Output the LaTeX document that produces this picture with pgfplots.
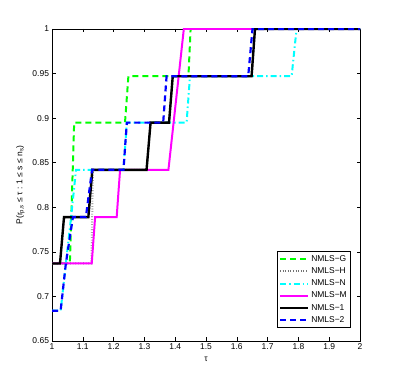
\documentclass[border=0pt]{standalone}
\usepackage{pgfplots}
\pgfplotsset{compat=1.18}
\usepackage{fontspec}
\setmainfont{Liberation Sans}

\definecolor{mgreen}{rgb}{0,1,0}
\definecolor{mcyan}{rgb}{0,1,1}
\definecolor{mmag}{rgb}{1,0,1}
\definecolor{mblue}{rgb}{0,0,1}

\begin{document}
\fontsize{8.5}{10}\selectfont
\begin{tikzpicture}
\useasboundingbox (0,0) rectangle (398bp,383bp);
\begin{axis}[
    at={(52bp,42bp)}, anchor=south west,
    scale only axis,
    width=308bp, height=312bp,
    xmin=1, xmax=2, ymin=0.65, ymax=1,
    xtick={1,1.1,...,2.01},
    ytick={0.65,0.7,0.75,0.8,0.85,0.9,0.95,1},
    xticklabels={1,1.1,1.2,1.3,1.4,1.5,1.6,1.7,1.8,1.9,2},
    yticklabels={0.65,0.7,0.75,0.8,0.85,0.9,0.95,1},
    tick align=inside,
    major tick length=3.5bp,
    tick style={black, line width=0.5pt},
    axis line style={black, line width=0.6pt},
    tick label style={font=\fontsize{8.5}{10}\selectfont},
    xlabel={τ},
    ylabel={P(r\textsubscript{p,s} ≤ τ : 1 ≤ s ≤ n\textsubscript{s})},
    xlabel style={yshift=-1bp},
    ylabel style={yshift=2bp},
    legend style={at={(rel axis cs:0.971,0.042)}, anchor=south east,
        font=\fontsize{8.5}{10}\selectfont, draw=black, line width=0.6pt,
        inner sep=2bp, row sep=1bp, cells={anchor=west}},
    legend image code/.code={\draw[#1] (0bp,0bp) -- (28bp,0bp);},
]
\addplot[mgreen, line width=2pt, dash pattern=on 6bp off 4bp] coordinates {
(1,0.737) (1.058,0.737) (1.072,0.895) (1.237,0.895) (1.248,0.947)
(1.443,0.947) (1.450,1) (2,1)};
\addlegendentry{NMLS−G}
\addplot[black!55, line width=2pt, dash pattern=on 0.6bp off 2bp] coordinates {
(1,0.737) (1.128,0.737) (1.133,0.842) (1.307,0.842) (1.320,0.895)
(1.380,0.895) (1.392,0.947) (1.648,0.947) (1.659,1) (2,1)};
\addlegendentry{NMLS−H}
\addplot[mcyan, line width=2pt, dash pattern=on 6bp off 3bp on 1.5bp off 3bp] coordinates {
(1,0.684) (1.028,0.684) (1.045,0.737) (1.062,0.789) (1.078,0.842)
(1.232,0.842) (1.243,0.895) (1.437,0.895) (1.448,0.947) (1.778,0.947)
(1.794,1) (2,1)};
\addlegendentry{NMLS−N}
\addplot[mmag, line width=2pt] coordinates {
(1,0.737) (1.129,0.737) (1.140,0.789) (1.210,0.789) (1.221,0.842)
(1.378,0.842) (1.428,1) (2,1)};
\addlegendentry{NMLS−M}
\addplot[black, line width=2.4pt] coordinates {
(1,0.737) (1.026,0.737) (1.039,0.789) (1.118,0.789) (1.131,0.842)
(1.307,0.842) (1.320,0.895) (1.380,0.895) (1.392,0.947) (1.648,0.947)
(1.659,1) (2,1)};
\addlegendentry{NMLS−1}
\addplot[mblue, line width=2.2pt, dash pattern=on 6bp off 4bp] coordinates {
(1,0.684) (1.028,0.684) (1.045,0.737) (1.068,0.789) (1.110,0.789)
(1.130,0.842) (1.232,0.842) (1.243,0.895) (1.361,0.895) (1.372,0.947)
(1.637,0.947) (1.651,1) (2,1)};
\addlegendentry{NMLS−2}
\end{axis}
\end{tikzpicture}
\end{document}
